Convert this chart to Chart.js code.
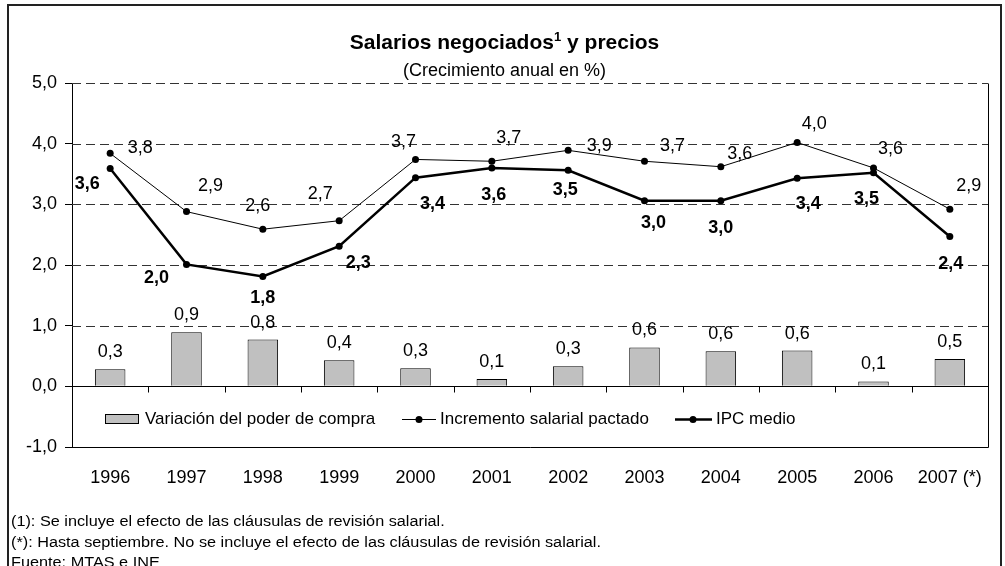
<!DOCTYPE html>
<html><head><meta charset="utf-8">
<script src="https://cdn.jsdelivr.net/npm/chart.js@4.4.0/dist/chart.umd.min.js"></script>
<style>
html,body{margin:0;padding:0;background:#fff;width:1005px;height:566px;overflow:hidden;font-family:"Liberation Sans",Arial,sans-serif;color:#000;}
#frame{position:absolute;left:7px;top:4px;width:995px;height:620px;border:2px solid #222;box-sizing:border-box;}
canvas{position:absolute;left:0;top:0;}
.t{position:absolute;white-space:nowrap;}
#title{left:7px;width:995px;top:31px;text-align:center;font-weight:bold;font-size:21px;line-height:21px;}
#title .sup{font-size:13px;position:relative;top:-8px;}
#sub{left:7px;width:995px;top:61px;text-align:center;font-size:18px;line-height:18px;}
.fn{left:11px;font-size:14px;line-height:14px;transform-origin:0 0;}
</style></head>
<body>
<div id="frame"></div>
<canvas id="c" width="1005" height="566"></canvas>
<div class="t" id="title">Salarios negociados<span class="sup">1</span> y precios</div>
<div class="t" id="sub">(Crecimiento anual en %)</div>
<div class="t fn" id="fn1" style="top:514px">(1): Se incluye el efecto de las cláusulas de revisión salarial.</div>
<div class="t fn" id="fn2" style="top:535px">(*): Hasta septiembre. No se incluye el efecto de las cláusulas de revisión salarial.</div>
<div class="t fn" id="fn3" style="top:555px">Fuente: MTAS e INE</div>
<script>
const years = ['1996','1997','1998','1999','2000','2001','2002','2003','2004','2005','2006','2007 (*)'];
const poderCompra = [0.28,0.89,0.77,0.43,0.30,0.12,0.33,0.64,0.58,0.59,0.08,0.45];
const poderCompraLabels = ['0,3','0,9','0,8','0,4','0,3','0,1','0,3','0,6','0,6','0,6','0,1','0,5'];
const salarial = [3.84,2.88,2.59,2.73,3.74,3.71,3.89,3.71,3.62,4.02,3.60,2.92];
const salarialLabels = ['3,8','2,9','2,6','2,7','3,7','3,7','3,9','3,7','3,6','4,0','3,6','2,9'];
const ipc = [3.59,2.01,1.81,2.31,3.44,3.60,3.56,3.06,3.06,3.43,3.52,2.47];
const ipcLabels = ['3,6','2,0','1,8','2,3','3,4','3,6','3,5','3,0','3,0','3,4','3,5','2,4'];
const yTicks = [-1,0,1,2,3,4,5];
const seriesNames = ['Variación del poder de compra','Incremento salarial pactado','IPC medio'];

// label offsets (layout only)
const salOff = [[30,-5],[24,-26],[-5,-23],[-19,-27],[-12,-17],[17,-23],[31,-4],[28,-15],[19,-13],[17,-18],[17,-19],[19,-23]];
const ipcOff = [[-23,15],[-30,14],[0,22],[19,17],[17,26],[2,27],[-3,20],[9,22],[0,27],[11,26],[-7,26],[1,28]];

// uniform horizontal fit of footnotes (based on the longest line)
(function(){
  const w2=document.getElementById('fn2').getBoundingClientRect().width;
  const k=590/w2;
  ['fn1','fn2','fn3'].forEach(id=>document.getElementById(id).style.transform='scaleX('+k+')');
})();

const FONT = '"Liberation Sans", Arial, sans-serif';

const deco = {
  id:'deco',
  beforeDatasetsDraw(chart){
    const {ctx, chartArea:a, scales:{y}} = chart;
    ctx.save();
    ctx.strokeStyle='#333'; ctx.lineWidth=1; ctx.setLineDash([9,5]);
    yTicks.forEach(v=>{
      if(v<=0) return;
      const py=Math.round(y.getPixelForValue(v))+0.5;
      ctx.beginPath(); ctx.moveTo(a.left,py); ctx.lineTo(a.right,py); ctx.stroke();
    });
    ctx.setLineDash([]);
    ctx.strokeStyle='#000';
    const r=Math.round(a.right)+0.5, b=Math.round(y.getPixelForValue(-1))+0.5, t=Math.round(y.getPixelForValue(5))+0.5;
    ctx.beginPath(); ctx.moveTo(r,t); ctx.lineTo(r,b); ctx.moveTo(a.left,b); ctx.lineTo(r,b); ctx.stroke();
    ctx.restore();
  },
  afterDatasetsDraw(chart){
    const {ctx, chartArea:a, scales:{x,y}} = chart;
    ctx.save();
    const z=Math.round(y.getPixelForValue(0))+0.5;
    ctx.strokeStyle='#000'; ctx.lineWidth=1;
    ctx.beginPath(); ctx.moveTo(a.left,z); ctx.lineTo(a.right,z);
    for(let i=1;i<years.length;i++){
      const px=Math.round((x.getPixelForValue(i-1)+x.getPixelForValue(i))/2)+0.5;
      ctx.moveTo(px,z); ctx.lineTo(px,z+6);
    }
    ctx.stroke();
    ctx.fillStyle='#000'; ctx.textAlign='center'; ctx.textBaseline='middle';
    const mb=chart.getDatasetMeta(0), ms=chart.getDatasetMeta(1), mi=chart.getDatasetMeta(2);
    ctx.font='18px '+FONT;
    mb.data.forEach((el,i)=>ctx.fillText(poderCompraLabels[i], el.x, el.y-17));
    ms.data.forEach((el,i)=>ctx.fillText(salarialLabels[i], el.x+salOff[i][0], el.y+salOff[i][1]));
    ctx.font='bold 18px '+FONT;
    mi.data.forEach((el,i)=>ctx.fillText(ipcLabels[i], el.x+ipcOff[i][0], el.y+ipcOff[i][1]));
    const ly=Math.round(y.getPixelForValue(-0.5))+2;
    ctx.font='17px '+FONT; ctx.textAlign='left';
    ctx.fillStyle='#c0c0c0'; ctx.fillRect(105,ly-4,33,9);
    ctx.strokeStyle='#000'; ctx.lineWidth=1; ctx.strokeRect(105.5,ly-4.5,33,9);
    ctx.fillStyle='#000';
    ctx.fillText(seriesNames[0],145,ly);
    ctx.beginPath(); ctx.moveTo(402,ly+0.5); ctx.lineTo(436,ly+0.5); ctx.stroke();
    ctx.beginPath(); ctx.arc(419,ly+0.5,3.5,0,Math.PI*2); ctx.fill();
    ctx.fillText(seriesNames[1],440,ly);
    ctx.lineWidth=2.5;
    ctx.beginPath(); ctx.moveTo(675,ly+0.5); ctx.lineTo(712,ly+0.5); ctx.stroke();
    ctx.beginPath(); ctx.arc(693,ly+0.5,3.5,0,Math.PI*2); ctx.fill();
    ctx.fillText(seriesNames[2],716,ly);
    ctx.restore();
  }
};

new Chart(document.getElementById('c'), {
  type:'bar',
  data:{
    labels: years,
    datasets:[
      {type:'bar', label:seriesNames[0], data:poderCompra, backgroundColor:'#c0c0c0', borderColor:'#000', borderWidth:1, barPercentage:0.4, categoryPercentage:1, order:3},
      {type:'line', label:seriesNames[1], data:salarial, borderColor:'#000', borderWidth:1, pointRadius:3.5, pointBackgroundColor:'#000', pointBorderWidth:0, tension:0, order:2},
      {type:'line', label:seriesNames[2], data:ipc, borderColor:'#000', borderWidth:2.5, pointRadius:3.5, pointBackgroundColor:'#000', pointBorderWidth:0, tension:0, order:1}
    ]
  },
  options:{
    responsive:false, animation:false, devicePixelRatio:1,
    layout:{padding:{top:83,left:0,right:17,bottom:0}},
    plugins:{legend:{display:false}, tooltip:{enabled:false}, title:{display:false}},
    scales:{
      x:{
        offset:true,
        grid:{display:false, drawTicks:false},
        border:{display:false},
        ticks:{font:{family:FONT,size:18}, color:'#000', padding:20, maxRotation:0, autoSkip:false},
        afterFit(s){ s.height=119; }
      },
      y:{
        min:-1, max:5,
        afterBuildTicks(s){ s.ticks = yTicks.map(v=>({value:v})); },
        grid:{display:true, drawOnChartArea:false, drawTicks:true, tickLength:7, tickColor:'#000', tickWidth:1},
        border:{display:true, color:'#000', width:1},
        ticks:{font:{family:FONT,size:18}, color:'#000', padding:8, callback:v=>v.toFixed(1).replace('.',',')},
        afterFit(s){ s.width=72; }
      }
    }
  },
  plugins:[deco]
});
</script>
</body></html>
